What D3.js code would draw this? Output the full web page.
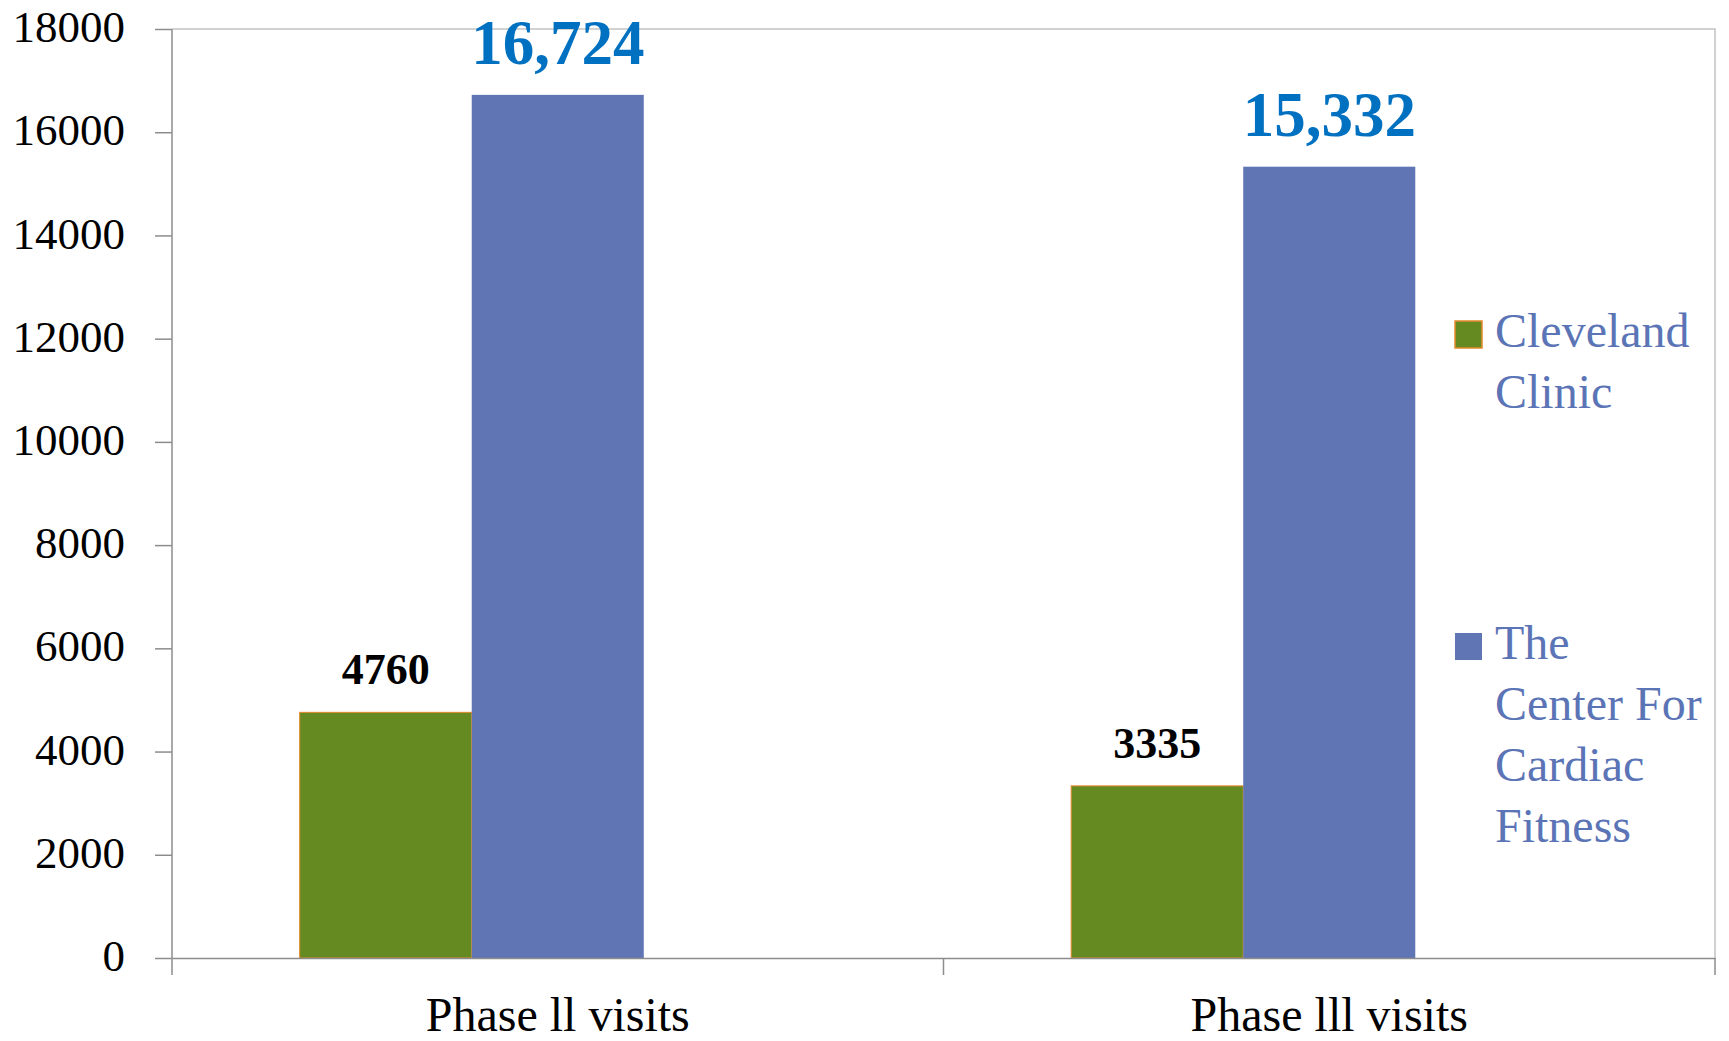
<!DOCTYPE html>
<html>
<head>
<meta charset="utf-8">
<script src="https://cdn.jsdelivr.net/npm/d3@7"></script>
<style>
  body { margin: 0; background: #fff; }
</style>
</head>
<body>
<div id="body"></div>
<script>
// chart data
var categories = ['Phase ll visits', 'Phase lll visits'];
var seriesNames = ['Cleveland Clinic', 'The Center For Cardiac Fitness'];
var clevelandValues = [4760, 3335];
var cardiacValues = [16724, 15332];
var yTicks = [0, 2000, 4000, 6000, 8000, 10000, 12000, 14000, 16000, 18000];

// legend text broken into lines like the original
var legendLines = [['Cleveland', 'Clinic'], ['The', 'Center For', 'Cardiac', 'Fitness']];

var width = 1729, height = 1041;
// note: can't call it "top", that's window.top
var plotLeft = 172, plotRight = 1715, plotTop = 29, plotBottom = 958;

var green = '#658A21', blue = '#6076B4';

var svg = d3.select('#body')
    .append('svg')
    .attr('width', width)
    .attr('height', height)
    .style('font-family', '"Liberation Serif", serif');

var y = d3.scaleLinear().domain([0, 18000]).range([plotBottom, plotTop]);

// one band per category, boundaries carry the ticks
var x0 = d3.scaleBand().domain(categories).range([plotLeft, plotRight]);

// the original chart reserves a third (empty) slot in each group
var x1 = d3.scaleBand()
    .domain(seriesNames.concat(['']))
    .range([0, x0.bandwidth()])
    .paddingOuter(0.742);

// frame top and right
svg.append('path')
    .attr('d', 'M' + plotLeft + ',' + plotTop + 'H' + plotRight + 'V' + plotBottom)
    .attr('fill', 'none')
    .attr('stroke', '#c4c4c4')
    .attr('stroke-width', 1.5);

// bars
var rows = categories.map(function (c, i) {
  return { cat: c, vals: [clevelandValues[i], cardiacValues[i]] };
});

var groups = svg.selectAll('g.grp')
    .data(rows)
    .enter().append('g')
    .attr('class', 'grp')
    .attr('transform', function (d) { return 'translate(' + x0(d.cat) + ',0)'; });

function cells (d) {
  return d.vals.map(function (v, i) { return { name: seriesNames[i], v: v, i: i }; });
}

groups.selectAll('rect')
    .data(cells)
    .enter().append('rect')
    .attr('x', function (d) { return x1(d.name); })
    .attr('y', function (d) { return y(d.v); })
    .attr('width', x1.bandwidth())
    .attr('height', function (d) { return plotBottom - y(d.v); })
    .attr('fill', function (d) { return d.i === 0 ? green : blue; })
    .attr('stroke', function (d) { return d.i === 0 ? '#E8892B' : 'none'; })
    .attr('stroke-width', 1);

// value labels
groups.selectAll('text.val')
    .data(cells)
    .enter().append('text')
    .attr('class', 'val')
    .attr('x', function (d) { return x1(d.name) + x1.bandwidth() / 2; })
    .attr('y', function (d) { return y(d.v) - (d.i === 0 ? 28 : 31); })
    .attr('text-anchor', 'middle')
    .attr('font-weight', 'bold')
    .attr('font-size', function (d) { return d.i === 0 ? '44px' : '63px'; })
    .attr('fill', function (d) { return d.i === 0 ? '#000' : '#0070C0'; })
    .text(function (d) { return d.i === 0 ? d.v : d3.format(',')(d.v); });

// y axis
var yAxis = svg.append('g')
    .attr('transform', 'translate(' + plotLeft + ',0)')
    .call(d3.axisLeft(y).tickValues(yTicks).tickFormat(d3.format('d')).tickSize(17).tickSizeOuter(0).tickPadding(30));
yAxis.select('.domain').remove();
yAxis.selectAll('line').attr('stroke', '#8c8c8c').attr('stroke-width', 1.5);
yAxis.selectAll('text')
    .attr('font-family', '"Liberation Serif", serif')
    .attr('font-size', '45px')
    .attr('fill', '#000')
    .attr('dy', '0.28em');

svg.append('line')
    .attr('x1', plotLeft).attr('x2', plotLeft)
    .attr('y1', plotTop).attr('y2', plotBottom + 17)
    .attr('stroke', '#8c8c8c').attr('stroke-width', 1.5);

// x axis
var xAxis = svg.append('g')
    .attr('transform', 'translate(0,' + plotBottom + ')')
    .call(d3.axisBottom(x0).tickSize(0).tickSizeOuter(0).tickPadding(47));
xAxis.select('.domain').attr('stroke', '#8c8c8c').attr('stroke-width', 1.5);
xAxis.selectAll('text')
    .attr('font-family', '"Liberation Serif", serif')
    .attr('font-size', '48px')
    .attr('fill', '#000')
    .attr('dy', '0.55em');

// category boundary ticks
svg.selectAll('line.ctick')
    .data(categories.slice(1).concat(['end']))
    .enter().append('line')
    .attr('class', 'ctick')
    .attr('x1', function (d) { return d === 'end' ? plotRight : x0(d); })
    .attr('x2', function (d) { return d === 'end' ? plotRight : x0(d); })
    .attr('y1', plotBottom).attr('y2', plotBottom + 17)
    .attr('stroke', '#8c8c8c').attr('stroke-width', 1.5);

// legend
var legendTop = [321, 633];
var legend = svg.selectAll('g.leg')
    .data(seriesNames)
    .enter().append('g')
    .attr('class', 'leg')
    .attr('transform', function (d, i) { return 'translate(1455,' + legendTop[i] + ')'; });

legend.append('rect')
    .attr('width', 27).attr('height', 27)
    .attr('fill', function (d, i) { return i === 0 ? green : blue; })
    .attr('stroke', function (d, i) { return i === 0 ? '#E8892B' : 'none'; })
    .attr('stroke-width', 1.5);

legend.append('text')
    .attr('font-size', '48px')
    .attr('fill', '#5B74B6')
    .selectAll('tspan')
    .data(function (d, i) { return legendLines[i]; })
    .enter().append('tspan')
    .attr('x', 40)
    .attr('y', function (d, j) { return 26 + j * 61; })
    .text(function (d) { return d; });
</script>
</body>
</html>
